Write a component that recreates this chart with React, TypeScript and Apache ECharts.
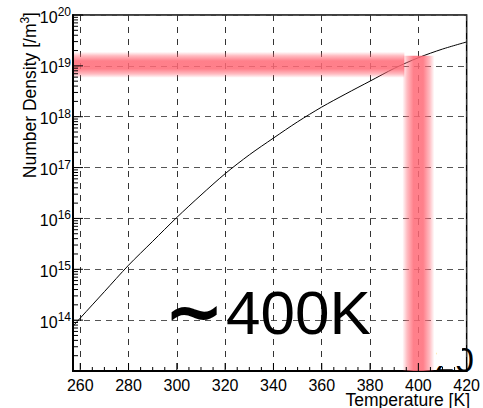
import React, { useEffect, useRef } from "react";
import * as echarts from "echarts";

// ---- data ----
const temperatures = [257, 260, 270, 280, 290, 300, 310, 320, 330, 340, 350, 360, 370, 380, 390, 400, 410, 420];
const logDensity = [13.88, 14.04, 14.56, 15.08, 15.55, 16.02, 16.46, 16.88, 17.25, 17.58, 17.9, 18.19, 18.45, 18.7, 18.95, 19.16, 19.33, 19.47];

const xMin = 257;
const xMax = 420;
const xTickLabels = [260, 280, 300, 320, 340, 360, 380, 400, 420];
const xMinorValues = [265, 270, 275, 285, 290, 295, 305, 310, 315, 325, 330, 335, 345, 350, 355, 365, 370, 375, 385, 390, 395, 405, 410, 415];
const yExponents = [13, 14, 15, 16, 17, 18, 19, 20];
const yMinorMultipliers = [2, 3, 4, 5, 6, 7, 8, 9];

const highlightPoint = [400, 1e19];
const annotationText = "400K";
const annotationTilde = "\u223C";
const cornerText = "20";
const xTitle = "Temperature [K]";
const yTitle = "Number Density [/m";

const FONT = "'Liberation Sans', Arial, sans-serif";

export default function App() {
  const ref = useRef<HTMLDivElement>(null);

  useEffect(() => {
    if (!ref.current) return;
    const chart = echarts.init(ref.current, null, { renderer: "svg" });

    const curve = temperatures.map((t, i) => [t, Math.pow(10, logDensity[i])]);

    const tickData: number[][] = [];
    yExponents.forEach((e) => {
      tickData.push([xMin, Math.pow(10, e), 0]);
      if (e < 20) yMinorMultipliers.forEach((m) => tickData.push([xMin, m * Math.pow(10, e), 1]));
    });
    xTickLabels.forEach((t) => tickData.push([t, 1e13, 2]));
    xMinorValues.forEach((t) => tickData.push([t, 1e13, 3]));

    const fade = (horizontal: boolean) => ({
      type: "linear",
      x: 0,
      y: 0,
      x2: horizontal ? 1 : 0,
      y2: horizontal ? 0 : 1,
      colorStops: [
        { offset: 0, color: "rgba(255,105,118,0)" },
        { offset: 0.15, color: "rgba(255,105,118,0.45)" },
        { offset: 0.35, color: "rgba(255,105,118,0.85)" },
        { offset: 0.65, color: "rgba(255,105,118,0.85)" },
        { offset: 0.85, color: "rgba(255,105,118,0.45)" },
        { offset: 1, color: "rgba(255,105,118,0)" },
      ],
    });

    chart.setOption({
      animation: false,
      grid: {
        left: 73,
        right: 14,
        top: 15,
        bottom: 37,
        show: true,
        borderColor: "#000",
        borderWidth: 1.5,
        backgroundColor: "#fff",
      },
      xAxis: {
        type: "value",
        min: xMin,
        max: xMax,
        splitNumber: 8,
        axisLine: { show: true, lineStyle: { color: "#000", width: 2 } },
        axisTick: { show: false },
        axisLabel: {
          color: "#000",
          fontFamily: FONT,
          fontSize: 16,
          lineHeight: 16,
          margin: 6,
          showMinLabel: true,
          formatter: (v: number) => (xTickLabels.indexOf(v) >= 0 ? String(v) : ""),
        },
        splitLine: {
          show: true,
          lineStyle: { color: "#333", width: 1, type: [6, 6] },
        },
      },
      yAxis: {
        type: "log",
        logBase: 10,
        min: 1e13,
        max: 1e20,
        splitNumber: 7,
        axisLine: { show: true, lineStyle: { color: "#000", width: 2 } },
        axisTick: { show: false },
        axisLabel: {
          color: "#000",
          fontFamily: FONT,
          margin: 2,
          formatter: (v: number) => {
            const e = Math.round(Math.log10(v));
            if (e === 13) return "";
            return `{b|10}{s|${e}}`;
          },
          rich: {
            b: { fontSize: 16, fontFamily: FONT, color: "#000", lineHeight: 18, padding: [4, 0, 0, 0] },
            s: { fontSize: 12, fontFamily: FONT, color: "#000", lineHeight: 18, padding: [0, 0, 6, 0] },
          },
        },
        splitLine: {
          show: true,
          lineStyle: { color: "#555", width: 1, type: [6, 5] },
        },
      },
      series: [
        {
          type: "line",
          data: curve,
          showSymbol: false,
          smooth: 0.3,
          lineStyle: { color: "#000", width: 1 },
          z: 3,
        },
        {
          type: "custom",
          data: [highlightPoint],
          z: 4,
          renderItem: (params: any, api: any) => {
            const p = api.coord([api.value(0), api.value(1)]);
            const o = api.coord([xMin, 1e13]);
            const half = 16;
            return {
              type: "group",
              children: [
                {
                  type: "rect",
                  shape: { x: o[0] + 1, y: p[1] - 14, width: p[0] - half - o[0] + 1, height: 26 },
                  style: { fill: fade(false) },
                },
                {
                  type: "rect",
                  shape: { x: p[0] - half, y: p[1] - 10, width: 2 * half, height: o[1] - (p[1] - 10) },
                  style: { fill: fade(true) },
                },
              ],
            };
          },
        },
        {
          type: "custom",
          data: tickData,
          z: 5,
          renderItem: (params: any, api: any) => {
            const kind = api.value(2);
            const p = api.coord([api.value(0), api.value(1)]);
            let shape;
            if (kind === 0) shape = { x1: p[0], y1: p[1], x2: p[0] + 10, y2: p[1] };
            else if (kind === 1) shape = { x1: p[0], y1: p[1], x2: p[0] + 5, y2: p[1] };
            else if (kind === 2) shape = { x1: p[0], y1: p[1], x2: p[0], y2: p[1] - 8 };
            else shape = { x1: p[0], y1: p[1], x2: p[0], y2: p[1] - 4 };
            return { type: "line", shape, style: { stroke: "#000", lineWidth: 1 } };
          },
        },
      ],
      graphic: [
        {
          type: "text",
          x: 28,
          y: 12,
          rotation: Math.PI / 2,
          z: 100,
          style: {
            text: `{a|${yTitle}}{s|3}{a|]}`,
            align: "right",
            verticalAlign: "middle",
            rich: {
              a: { fontSize: 17.5, fontFamily: FONT, fill: "#000", lineHeight: 20, padding: [4, 0, 0, 0] },
              s: { fontSize: 12, fontFamily: FONT, fill: "#000", lineHeight: 20, padding: [0, 0, 6, 0] },
            },
          },
        },
        {
          type: "text",
          x: 470,
          y: 399.5,
          z: 100,
          style: { text: xTitle, fontSize: 17.5, lineHeight: 16, fontFamily: FONT, fill: "#000", align: "right", verticalAlign: "middle" },
        },
        {
          type: "text",
          x: 194,
          y: 311,
          z: 100,
          style: { text: annotationTilde, fontSize: 72, fontWeight: "bold", fontFamily: "'DejaVu Sans'", fill: "#000", align: "center", verticalAlign: "middle" },
        },
        {
          type: "text",
          x: 226,
          y: 312,
          z: 100,
          style: { text: annotationText, fontSize: 62, fontFamily: FONT, fill: "#000", align: "left", verticalAlign: "middle" },
        },
        {
          type: "text",
          x: 435,
          y: 359,
          z: 100,
          style: { text: cornerText, fontSize: 35, fontFamily: FONT, fill: "#000", align: "left", verticalAlign: "middle" },
        },
        {
          type: "rect",
          z: 101,
          shape: { x: 437, y: 323, width: 25, height: 43 },
          style: { fill: "#fff" },
        },
      ],
    });

    return () => chart.dispose();
  }, []);

  return (
    <div
      ref={ref}
      style={{ position: "fixed", left: 0, top: 0, width: 483, height: 408, background: "#fff" }}
    />
  );
}
